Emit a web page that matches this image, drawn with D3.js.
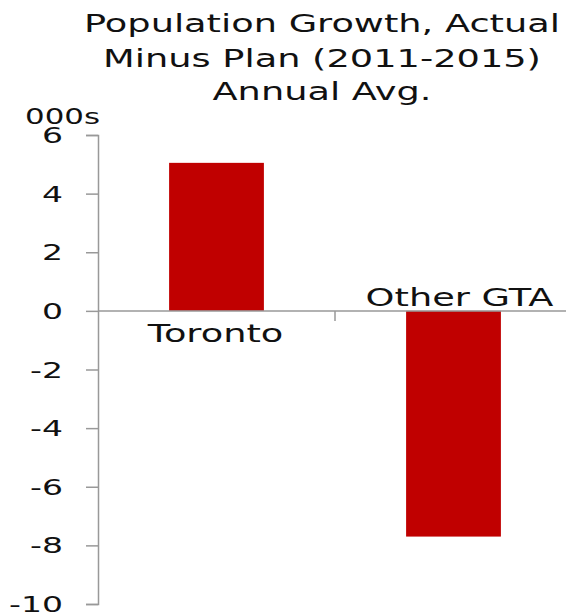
<!DOCTYPE html>
<html>
<head>
<meta charset="utf-8">
<script src="https://cdn.jsdelivr.net/npm/d3@7"></script>
<style>
  body { margin: 0; background: #fff; }
  text { font-family: "DejaVu Sans", Verdana, sans-serif; fill: #111; }
</style>
</head>
<body>
<svg width="566" height="615"></svg>
<script>
var categories = ["Toronto", "Other GTA"];
var values = [5.05, -7.7];
var tickValues = [6, 4, 2, 0, -2, -4, -6, -8, -10];
var titleLines = ["Population Growth, Actual", "Minus Plan (2011-2015)", "Annual Avg."];

var svg = d3.select("svg"),
    width = +svg.attr("width"),
    height = +svg.attr("height");

var sx = 1.47; // the original's lettering is stretched wide

var x = d3.scaleBand()
    .domain(categories)
    .range([98, 572])
    .paddingInner(0.6)
    .paddingOuter(0.3);

var xb = d3.scaleBand().domain(categories).range([98, 572]);

var y = d3.scaleLinear()
    .domain([-10, 6])
    .range([604, 135]);

function wideText(g, tx, ty, size, anchor, str) {
  return g.append("text")
    .attr("transform", "translate(" + tx + "," + ty + ") scale(" + sx + ",1)")
    .attr("text-anchor", anchor)
    .style("font-size", size + "px")
    .text(str);
}

// title
var titleBase = [32, 67, 100];
titleLines.forEach(function(t, i) {
  wideText(svg, 322, titleBase[i], 25, "middle", t);
});

wideText(svg, 25, 124, 21, "start", "000s");

// bars
svg.append("g").selectAll("rect")
  .data(values)
  .enter().append("rect")
    .attr("x", function(d, i) { return x(categories[i]); })
    .attr("width", x.bandwidth())
    .attr("y", function(d) { return y(Math.max(0, d)); })
    .attr("height", function(d) { return Math.abs(y(d) - y(0)); })
    .attr("fill", "#c00000");

// y axis
var yAxis = svg.append("g")
    .attr("transform", "translate(98,0)")
    .call(d3.axisLeft(y).tickValues(tickValues).tickSize(12)
      .tickFormat(function(d) { return String(d); }));
yAxis.selectAll("path, line").attr("stroke", "#999").attr("stroke-width", 1.5);
yAxis.selectAll("text")
    .attr("x", 0)
    .attr("dy", "0.3em")
    .attr("transform", "translate(-35,1) scale(1.5,1)")
    .style("font-size", "22px")
    .style("font-family", "DejaVu Sans, Verdana, sans-serif")
    .attr("fill", "#111");

// x axis at zero
var xLine = svg.append("g");
xLine.append("line")
    .attr("x1", 98).attr("x2", 572)
    .attr("y1", y(0)).attr("y2", y(0))
    .attr("stroke", "#999").attr("stroke-width", 1.5);
xLine.append("line")
    .attr("x1", xb("Other GTA")).attr("x2", xb("Other GTA"))
    .attr("y1", y(0)).attr("y2", y(0) + 10)
    .attr("stroke", "#999").attr("stroke-width", 1.5);

// category labels
values.forEach(function(d, i) {
  var cx = xb(categories[i]) + xb.bandwidth() / 2 + (d >= 0 ? -1 : 6);
  wideText(svg, cx, d >= 0 ? y(0) + 31 : y(0) - 5, 25, "middle", categories[i]);
});
</script>
</body>
</html>
